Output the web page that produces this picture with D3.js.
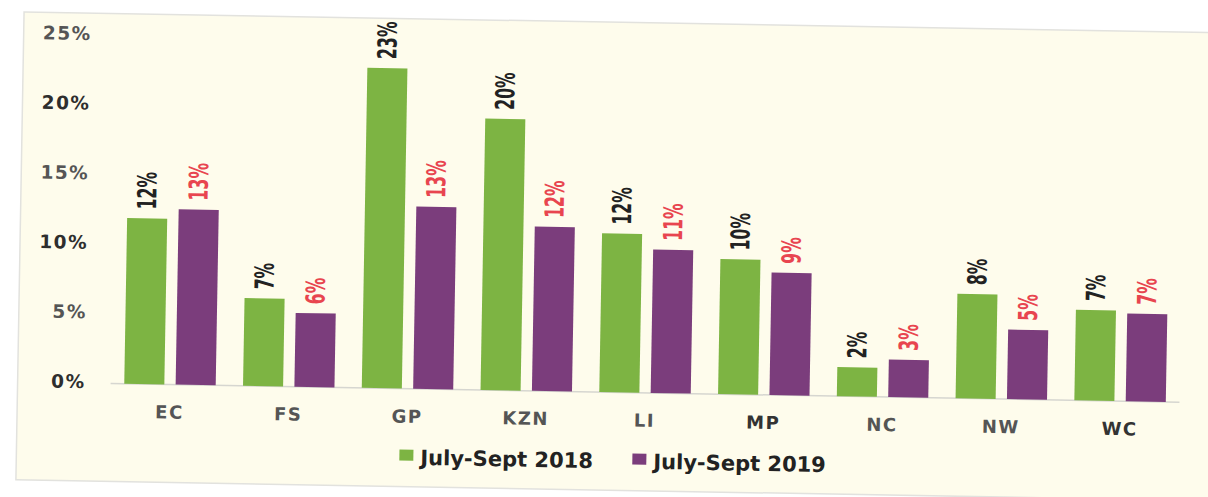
<!DOCTYPE html>
<html>
<head>
<meta charset="utf-8">
<script src="https://cdn.jsdelivr.net/npm/d3@7"></script>
<style>
  html, body { margin: 0; padding: 0; background: #ffffff; }
  svg { display: block; }
</style>
</head>
<body>
<div id="chart"></div>
<script>
// Provinces and the two quarters
const provinces = ["EC", "FS", "GP", "KZN", "LI", "MP", "NC", "NW", "WC"]
const seriesNames = ["July-Sept 2018", "July-Sept 2019"]
const values2018 = [11.9, 6.3, 23.0, 19.5, 11.4, 9.7, 2.1, 7.5, 6.5]
const values2019 = [12.6, 5.3, 13.1, 11.8, 10.3, 8.8, 2.7, 5.0, 6.3]
const labels2018 = ["12%", "7%", "23%", "20%", "12%", "10%", "2%", "8%", "7%"]
const labels2019 = ["13%", "6%", "13%", "12%", "11%", "9%", "3%", "5%", "7%"]
const yTicks = [0, 5, 10, 15, 20, 25]

const width = 1208
const height = 497
const colors = ["#7db443", "#7b3d7c"]
const labelColors = ["#222222", "#e8454f"]

const svg = d3.select("#chart")
  .append("svg")
  .attr("width", width)
  .attr("height", height)

// the scan is slightly tilted, so everything sits in a rotated group
const g = svg.append("g")
  .attr("transform", "rotate(1, 600, 250)")

// cream panel
g.append("rect")
  .attr("x", 20).attr("y", 22)
  .attr("width", 1200).attr("height", 468)
  .attr("fill", "#fefcec")
  .attr("stroke", "#e2e2de")
  .attr("stroke-width", 1.5)

const x0 = d3.scaleBand()
  .domain(provinces)
  .range([113, 1182])
  .paddingInner(0.23)
  .paddingOuter(0.115)

const x1 = d3.scaleBand()
  .domain(seriesNames)
  .range([0, x0.bandwidth()])
  .paddingInner(0.22)

const y = d3.scaleLinear()
  .domain([0, 25])
  .range([392, 44])

// y axis labels
g.selectAll(".ytick")
  .data(yTicks)
  .join("text")
  .attr("class", "ytick")
  .attr("x", 88)
  .attr("y", d => y(d))
  .attr("text-anchor", "end")
  .attr("dominant-baseline", "middle")
  .attr("font-family", "DejaVu Sans, Verdana, sans-serif")
  .attr("font-weight", "bold")
  .attr("font-size", "18.5px")
  .attr("letter-spacing", "1.5px")
  .attr("fill", d => d % 10 === 0 ? "#2e2e2e" : "#555555")
  .text(d => d + "%")

// baseline
g.append("line")
  .attr("x1", x0.range()[0]).attr("x2", x0.range()[1])
  .attr("y1", y(0)).attr("y2", y(0))
  .attr("stroke", "#d6d6d0")
  .attr("stroke-width", 1.5)

const rows = provinces.map((p, i) => ({
  province: p,
  items: [
    { series: seriesNames[0], value: values2018[i], label: labels2018[i], k: 0 },
    { series: seriesNames[1], value: values2019[i], label: labels2019[i], k: 1 }
  ]
}))

const groups = g.selectAll(".grp")
  .data(rows)
  .join("g")
  .attr("class", "grp")
  .attr("transform", d => `translate(${x0(d.province)},0)`)

groups.selectAll("rect")
  .data(d => d.items)
  .join("rect")
  .attr("x", d => x1(d.series))
  .attr("y", d => y(d.value))
  .attr("width", x1.bandwidth())
  .attr("height", d => y(0) - y(d.value))
  .attr("fill", d => colors[d.k])

// rotated value labels
groups.selectAll("text.val")
  .data(d => d.items)
  .join("text")
  .attr("class", "val")
  .attr("transform", d => `translate(${x1(d.series) + x1.bandwidth() / 2 + 1},${y(d.value) - 9}) rotate(-90) scale(1,1.5)`)
  .attr("dominant-baseline", "middle")
  .attr("font-family", "'Liberation Sans Narrow', 'DejaVu Sans Condensed', sans-serif")
  .attr("font-weight", "bold")
  .attr("font-size", "17.5px")
  .attr("fill", d => labelColors[d.k])
  .text(d => d.label)

// category labels
g.selectAll(".xlab")
  .data(provinces)
  .join("text")
  .attr("class", "xlab")
  .attr("x", d => x0(d) + x0.bandwidth() / 2)
  .attr("y", 421)
  .attr("text-anchor", "middle")
  .attr("dominant-baseline", "middle")
  .attr("font-family", "DejaVu Sans, Verdana, sans-serif")
  .attr("font-weight", "bold")
  .attr("font-size", "18px")
  .attr("letter-spacing", "1.5px")
  .attr("fill", d => d === "WC" || d === "MP" ? "#333333" : "#555555")
  .text(d => d)

// legend
const legendX = [403, 636]
const legend = g.selectAll(".leg")
  .data(seriesNames)
  .join("g")
  .attr("class", "leg")
  .attr("transform", (d, i) => `translate(${legendX[i]},468)`)

legend.append("rect")
  .attr("x", 0).attr("y", -15)
  .attr("width", 14).attr("height", 11)
  .attr("fill", (d, i) => colors[i])

legend.append("text")
  .attr("x", 21)
  .attr("y", 0)
  .attr("font-family", "DejaVu Sans, Verdana, sans-serif")
  .attr("font-weight", "bold")
  .attr("font-size", "21px")
  .attr("fill", "#222222")
  .text(d => d)
</script>
</body>
</html>
